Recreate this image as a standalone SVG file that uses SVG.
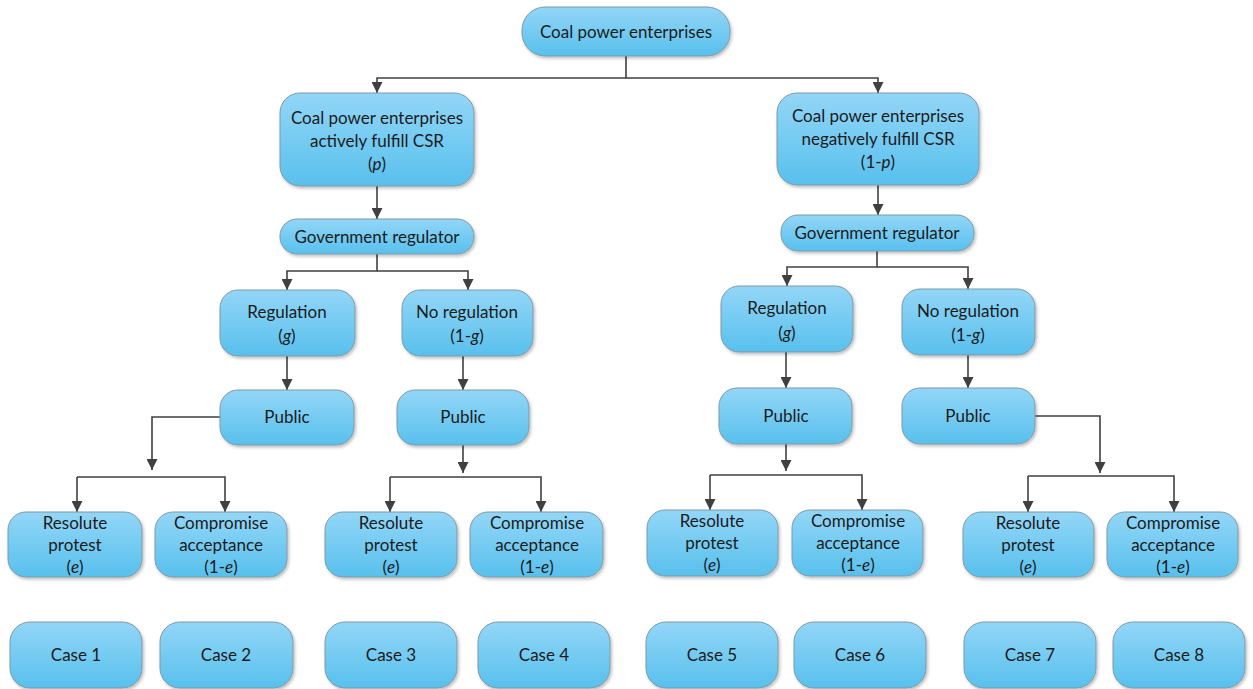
<svg xmlns="http://www.w3.org/2000/svg" width="1253" height="689" viewBox="0 0 1253 689">
<defs>
<linearGradient id="bg" x1="0" y1="0" x2="0" y2="1">
<stop offset="0" stop-color="#93d6f7"/>
<stop offset="1" stop-color="#58c0ed"/>
</linearGradient>
<filter id="sh" x="-10%" y="-10%" width="130%" height="140%">
<feDropShadow dx="1.5" dy="2" stdDeviation="1.5" flood-color="#000" flood-opacity="0.25"/>
</filter>
<marker id="ah" markerUnits="userSpaceOnUse" markerWidth="11" markerHeight="11" refX="11" refY="5.5" orient="auto">
<path d="M0,0 L11,5.5 L0,11 z" fill="#404040"/>
</marker>
<style>
.n rect{fill:url(#bg);stroke:#7f9aa6;stroke-width:1;filter:url(#sh)}
.n text{font-family:Lato,"Open Sans","Liberation Sans",sans-serif;font-size:17px;fill:#1b1b1b;text-anchor:middle}
.i{font-style:italic}
#connectors path{fill:none;stroke:#404040;stroke-width:1.6}
.a{marker-end:url(#ah)}
</style>
</defs>
<rect width="1253" height="689" fill="#fff"/>
<g id="connectors">
<path class="a" d="M626 56 V78 H377 V93"/>
<path class="a" d="M626 78 H878 V93"/>
<path class="a" d="M377 186 V219"/>
<path class="a" d="M878 185 V215"/>
<path class="a" d="M377 254 V271 H287 V290"/>
<path class="a" d="M377 271 H468 V290"/>
<path class="a" d="M877 251 V267 H787 V286"/>
<path class="a" d="M877 267 H968 V289"/>
<path class="a" d="M287 356 V390"/>
<path class="a" d="M463 356 V390"/>
<path class="a" d="M786 352 V388"/>
<path class="a" d="M968 355 V388"/>
<path class="a" d="M220 417 H152 V470"/>
<path class="a" d="M77 477 H225 V512"/>
<path class="a" d="M77 477 V512"/>
<path class="a" d="M463 445 V473"/>
<path class="a" d="M390 477 H541 V512"/>
<path class="a" d="M390 477 V512"/>
<path class="a" d="M786 444 V471"/>
<path class="a" d="M710 475 H862 V510"/>
<path class="a" d="M710 475 V510"/>
<path class="a" d="M1035 416 H1100 V473"/>
<path class="a" d="M1028 476 H1174 V512"/>
<path class="a" d="M1028 476 V512"/>
</g>
<g id="n0" class="n"><rect x="522" y="7" width="208" height="49" rx="23"/><text x="626" y="38">Coal power enterprises</text></g>
<g id="n1" class="n"><rect x="280" y="93" width="194" height="93" rx="20"/><text x="377" y="124">Coal power enterprises</text><text x="377" y="147">actively fulfill CSR</text><text x="377" y="170">(<tspan class="i">p</tspan>)</text></g>
<g id="n2" class="n"><rect x="777" y="93" width="202" height="92" rx="20"/><text x="878" y="122">Coal power enterprises</text><text x="878" y="145">negatively fulfill CSR</text><text x="878" y="168">(1-<tspan class="i">p</tspan>)</text></g>
<g id="g1" class="n"><rect x="280" y="219" width="194" height="35" rx="17"/><text x="377" y="243">Government regulator</text></g>
<g id="g2" class="n"><rect x="781" y="215" width="193" height="36" rx="17"/><text x="877" y="239">Government regulator</text></g>
<g id="r1" class="n"><rect x="220" y="290" width="135" height="66" rx="18"/><text x="287" y="318">Regulation</text><text x="287" y="342">(<tspan class="i">g</tspan>)</text></g>
<g id="nr1" class="n"><rect x="402" y="290" width="131" height="66" rx="18"/><text x="467" y="318">No regulation</text><text x="467" y="342">(1-<tspan class="i">g</tspan>)</text></g>
<g id="r2" class="n"><rect x="721" y="286" width="132" height="66" rx="18"/><text x="787" y="314">Regulation</text><text x="787" y="339">(<tspan class="i">g</tspan>)</text></g>
<g id="nr2" class="n"><rect x="902" y="289" width="133" height="66" rx="18"/><text x="968" y="317">No regulation</text><text x="968" y="341">(1-<tspan class="i">g</tspan>)</text></g>
<g id="p1" class="n"><rect x="220" y="390" width="134" height="55" rx="18"/><text x="287" y="423">Public</text></g>
<g id="p2" class="n"><rect x="397" y="390" width="132" height="55" rx="18"/><text x="463" y="423">Public</text></g>
<g id="p3" class="n"><rect x="719" y="388" width="133" height="56" rx="18"/><text x="786" y="422">Public</text></g>
<g id="p4" class="n"><rect x="902" y="388" width="133" height="56" rx="18"/><text x="968" y="422">Public</text></g>
<g id="l1" class="n"><rect x="8" y="512" width="134" height="65" rx="18"/><text x="75" y="529">Resolute</text><text x="75" y="551">protest</text><text x="75" y="573">(<tspan class="i">e</tspan>)</text></g>
<g id="l2" class="n"><rect x="155" y="512" width="132" height="65" rx="18"/><text x="221" y="529">Compromise</text><text x="221" y="551">acceptance</text><text x="221" y="573">(1-<tspan class="i">e</tspan>)</text></g>
<g id="l3" class="n"><rect x="325" y="512" width="132" height="65" rx="18"/><text x="391" y="529">Resolute</text><text x="391" y="551">protest</text><text x="391" y="573">(<tspan class="i">e</tspan>)</text></g>
<g id="l4" class="n"><rect x="470" y="512" width="133" height="65" rx="18"/><text x="537" y="529">Compromise</text><text x="537" y="551">acceptance</text><text x="537" y="573">(1-<tspan class="i">e</tspan>)</text></g>
<g id="l5" class="n"><rect x="647" y="510" width="131" height="66" rx="18"/><text x="712" y="527">Resolute</text><text x="712" y="549">protest</text><text x="712" y="571">(<tspan class="i">e</tspan>)</text></g>
<g id="l6" class="n"><rect x="792" y="510" width="131" height="66" rx="18"/><text x="858" y="527">Compromise</text><text x="858" y="549">acceptance</text><text x="858" y="571">(1-<tspan class="i">e</tspan>)</text></g>
<g id="l7" class="n"><rect x="963" y="512" width="131" height="65" rx="18"/><text x="1028" y="529">Resolute</text><text x="1028" y="551">protest</text><text x="1028" y="573">(<tspan class="i">e</tspan>)</text></g>
<g id="l8" class="n"><rect x="1107" y="512" width="131" height="65" rx="18"/><text x="1173" y="529">Compromise</text><text x="1173" y="551">acceptance</text><text x="1173" y="573">(1-<tspan class="i">e</tspan>)</text></g>
<g id="c1" class="n"><rect x="10" y="622" width="132" height="66" rx="20"/><text x="76" y="661">Case 1</text></g>
<g id="c2" class="n"><rect x="160" y="622" width="133" height="66" rx="20"/><text x="226" y="661">Case 2</text></g>
<g id="c3" class="n"><rect x="325" y="622" width="132" height="66" rx="20"/><text x="391" y="661">Case 3</text></g>
<g id="c4" class="n"><rect x="478" y="622" width="132" height="66" rx="20"/><text x="544" y="661">Case 4</text></g>
<g id="c5" class="n"><rect x="646" y="622" width="132" height="66" rx="20"/><text x="712" y="661">Case 5</text></g>
<g id="c6" class="n"><rect x="794" y="622" width="132" height="66" rx="20"/><text x="860" y="661">Case 6</text></g>
<g id="c7" class="n"><rect x="964" y="622" width="132" height="66" rx="20"/><text x="1030" y="661">Case 7</text></g>
<g id="c8" class="n"><rect x="1113" y="622" width="132" height="66" rx="20"/><text x="1179" y="661">Case 8</text></g>
</svg>
